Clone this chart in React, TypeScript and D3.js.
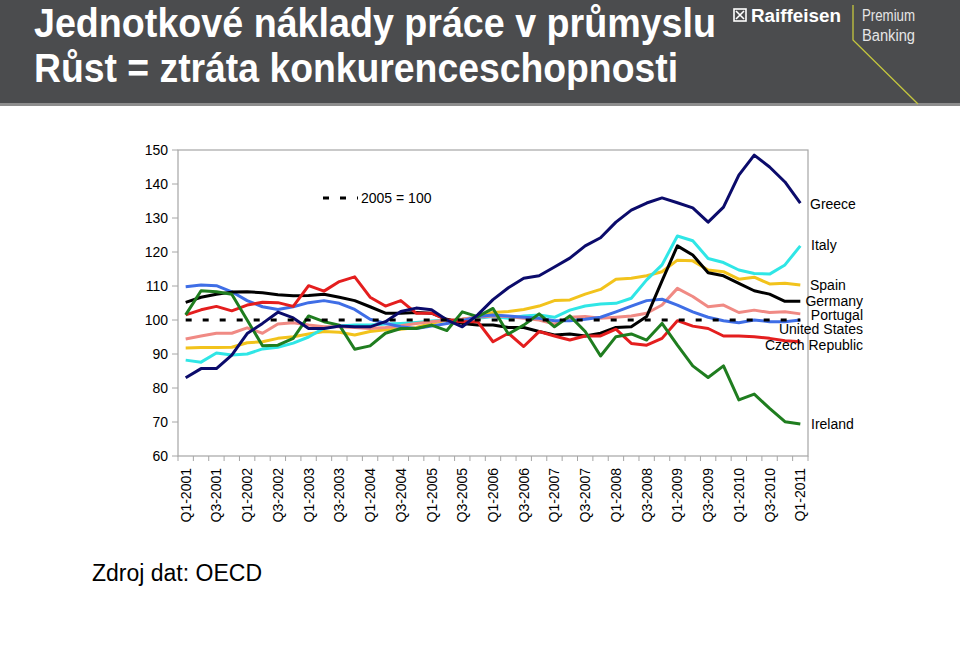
import React from "react";
import * as d3 from "d3";

const quarters = [
  "Q1-2001","Q2-2001","Q3-2001","Q4-2001","Q1-2002","Q2-2002","Q3-2002","Q4-2002",
  "Q1-2003","Q2-2003","Q3-2003","Q4-2003","Q1-2004","Q2-2004","Q3-2004","Q4-2004",
  "Q1-2005","Q2-2005","Q3-2005","Q4-2005","Q1-2006","Q2-2006","Q3-2006","Q4-2006",
  "Q1-2007","Q2-2007","Q3-2007","Q4-2007","Q1-2008","Q2-2008","Q3-2008","Q4-2008",
  "Q1-2009","Q2-2009","Q3-2009","Q4-2009","Q1-2010","Q2-2010","Q3-2010","Q4-2010",
  "Q1-2011",
];
const xTickLabels = quarters.filter((q) => q.startsWith("Q1") || q.startsWith("Q3"));
const yTicks = [60, 70, 80, 90, 100, 110, 120, 130, 140, 150];

const greece = [83, 85.7, 85.7, 89.7, 96, 99, 102.3, 100.6, 97.5, 97.5, 98.2, 98, 98, 99.5, 102.5, 103.5, 103, 100, 98, 101.5, 106, 109.5, 112.3, 113, 115.6, 118.2, 121.8, 124.2, 128.8, 132.3, 134.4, 135.9, 134.5, 133, 128.8, 133.2, 142.6, 148.5, 145, 140.6, 134.4];
const italy = [88.2, 87.6, 90.3, 89.7, 90, 91.5, 92, 93.2, 95, 97.6, 98.2, 98.5, 98.5, 98.8, 99, 99.3, 99.7, 100, 100, 100.5, 101, 100.5, 101.2, 101.5, 100.8, 102.9, 104.1, 104.7, 104.9, 106.4, 111.8, 116.2, 124.7, 123.3, 118.1, 116.9, 114.7, 113.7, 113.5, 116.2, 121.8];
const spain = [91.8, 91.9, 91.9, 92, 93.3, 93.6, 94.6, 95.1, 95.9, 96.6, 96.4, 95.6, 96.6, 97.1, 97.3, 97.8, 99, 100, 100.2, 100.8, 102.2, 102.5, 103.1, 104.1, 105.7, 105.9, 107.6, 109, 112, 112.3, 113, 114.2, 117.6, 117.4, 114.7, 114.2, 112, 112.6, 110.6, 110.8, 110.3];
const germany = [105.2, 106.7, 107.6, 108.2, 108.3, 108, 107.4, 107.1, 107.2, 107.6, 106.7, 105.7, 103.9, 102, 102, 102.2, 102, 100.2, 99, 98.5, 98.5, 97.8, 97.8, 96.6, 95.6, 95.9, 95.3, 96.1, 97.8, 98, 101, 111.5, 121.8, 119.1, 113.9, 113, 110.8, 108.6, 107.6, 105.5, 105.5];
const portugal = [94.4, 95.3, 96.1, 96.1, 97.7, 96.1, 98.8, 99.2, 98.5, 98, 98, 97.8, 97.5, 97.8, 98.3, 99, 99.5, 100, 100.3, 100.8, 101.2, 101, 100.5, 100, 98.8, 100.8, 101, 100.5, 100.8, 101.2, 102, 104.4, 109.3, 106.9, 103.9, 104.4, 102.2, 102.9, 102.2, 102.4, 101.8];
const unitedStates = [109.8, 110.3, 110.1, 108.3, 105.7, 103.9, 103.1, 103.9, 105.1, 105.7, 104.9, 103.1, 100.2, 99, 98, 97.5, 98.2, 99, 99.8, 101, 101.5, 101.2, 100.8, 100.5, 99.8, 99.8, 100.2, 100.8, 102.4, 104.1, 105.7, 106.1, 104.4, 102.4, 100.8, 99.8, 99.2, 100, 99.5, 99.5, 100];
const czech = [101.5, 103, 104, 102.7, 104.4, 105.2, 105.1, 104, 110.1, 108.5, 111.3, 112.7, 106.7, 104.1, 105.7, 102, 102, 100, 99.5, 99.5, 93.6, 96.1, 92.2, 96.6, 95.3, 94.1, 95.3, 95.3, 97.3, 93.1, 92.6, 94.6, 99.8, 98.2, 97.5, 95.3, 95.3, 95.1, 94.6, 93.9, 93.6];
const ireland = [101.5, 108.6, 108.3, 107.6, 100, 92.4, 92.6, 94.6, 101.2, 99.5, 98.5, 91.4, 92.4, 96.1, 97.5, 97.5, 98.5, 96.9, 102.4, 101, 103.4, 95.9, 98.5, 101.8, 98, 101.2, 96.6, 89.4, 95.1, 95.9, 94.1, 99, 92.6, 86.5, 83.1, 86.5, 76.5, 78.2, 74, 70.1, 69.4];
const baseline = quarters.map(() => 100);

const seriesNames = ["Spain", "Italy", "Portugal", "United States", "Germany", "Czech Republic", "Ireland", "Greece"];
const seriesValues = [spain, italy, portugal, unitedStates, germany, czech, ireland, greece];
const seriesColors = ["#f2c31c", "#2fe6e6", "#f08a84", "#3f6ee6", "#000000", "#e41e1e", "#1f7d1f", "#0b0b6b"];

// label placement (name, x, y, anchor)
const labelSpec: [string, number, number, string][] = [
  ["Greece", 810, 209, "start"],
  ["Italy", 811, 250, "start"],
  ["Spain", 810, 290, "start"],
  ["Germany", 863, 306, "end"],
  ["Portugal", 863, 320, "end"],
  ["United States", 863, 334, "end"],
  ["Czech Republic", 863, 350, "end"],
  ["Ireland", 811, 429, "start"],
];

const FONT = "'Liberation Sans', Arial, Helvetica, sans-serif";
const TITLE_FONT = "'Liberation Sans Narrow', 'Liberation Sans', Arial, sans-serif";

export default function App() {
  const plot = { left: 178, right: 808, top: 150, bottom: 456 };
  const x = d3.scalePoint<string>().domain(quarters).range([plot.left, plot.right]).padding(0.5);
  const y = d3.scaleLinear().domain([60, 150]).range([plot.bottom, plot.top]);
  const line = d3
    .line<number>()
    .x((_, i) => x(quarters[i]) as number)
    .y((d) => y(d));
  const step = x.step();
  const boundaries = quarters
    .map((q) => (x(q) as number) - step / 2)
    .concat([(x(quarters[quarters.length - 1]) as number) + step / 2]);

  return (
    <svg width={960} height={650} style={{ position: "absolute", left: 0, top: 0, background: "#fff" }} fontFamily={FONT}>
      {/* header */}
      <rect x={0} y={0} width={960} height={104} fill="#4b4c4e" />
      <rect x={0} y={103} width={960} height={3} fill="#8d8d8d" />
      <text x={34} y={37} fill="#fff" fontSize={40} fontWeight="bold" textLength={682} lengthAdjust="spacingAndGlyphs" fontFamily={TITLE_FONT}>
        Jednotkové náklady práce v průmyslu
      </text>
      <text x={34} y={82} fill="#fff" fontSize={40} fontWeight="bold" textLength={644} lengthAdjust="spacingAndGlyphs" fontFamily={TITLE_FONT}>
        Růst = ztráta konkurenceschopnosti
      </text>
      <rect x={734} y={9} width={12} height={12} fill="none" stroke="#fff" strokeWidth={1.6} />
      <path d="M736,11 L744,19 M744,11 L736,19" stroke="#fff" strokeWidth={1.6} />
      <text x={751} y={22} fill="#fff" fontSize={18} fontWeight="bold" textLength={90} lengthAdjust="spacingAndGlyphs">Raiffeisen</text>
      <path d="M853,5 L853,40 L918,104" fill="none" stroke="#c4c63e" strokeWidth={1.3} />
      <text x={862} y={21} fill="#e6e6e6" fontSize={16} textLength={53} lengthAdjust="spacingAndGlyphs">Premium</text>
      <text x={862} y={41} fill="#e6e6e6" fontSize={16} textLength={53} lengthAdjust="spacingAndGlyphs">Banking</text>

      {/* plot frame */}
      <rect x={plot.left} y={plot.top} width={plot.right - plot.left} height={plot.bottom - plot.top} fill="none" stroke="#a6a6a6" strokeWidth={1.2} />

      {/* y axis */}
      {yTicks.map((t) => (
        <g key={t}>
          <line x1={plot.left - 6} x2={plot.left} y1={y(t)} y2={y(t)} stroke="#a6a6a6" strokeWidth={1} />
          <text x={168} y={y(t)} dy="0.35em" textAnchor="end" fontSize={14} fill="#000">{t}</text>
        </g>
      ))}

      {/* x axis */}
      {boundaries.map((b, i) => (
        <line key={i} x1={b} x2={b} y1={plot.bottom} y2={plot.bottom + 5} stroke="#a6a6a6" strokeWidth={1} />
      ))}
      {xTickLabels.map((q) => (
        <text key={q} transform={`translate(${(x(q) as number) + 5},468) rotate(-90)`} textAnchor="end" fontSize={14} fill="#000">
          {q}
        </text>
      ))}

      {/* series */}
      {seriesValues.map((vals, k) => (
        <path key={seriesNames[k]} d={line(vals) as string} fill="none" stroke={seriesColors[k]} strokeWidth={3} strokeLinejoin="round" />
      ))}
      <path d={line(baseline) as string} fill="none" stroke="#000" strokeWidth={3} strokeDasharray="6,11" />

      {/* legend */}
      <line x1={323} x2={358} y1={198} y2={198} stroke="#000" strokeWidth={3} strokeDasharray="6,11" />
      <text x={361} y={198} dy="0.35em" fontSize={14}>2005 = 100</text>

      {/* series labels */}
      {labelSpec.map(([name, lx, ly, anchor]) => (
        <text key={name} x={lx} y={ly} textAnchor={anchor as any} fontSize={14} fill="#000">{name}</text>
      ))}

      <text x={92} y={581} fontSize={23} fill="#000">Zdroj dat: OECD</text>
    </svg>
  );
}
